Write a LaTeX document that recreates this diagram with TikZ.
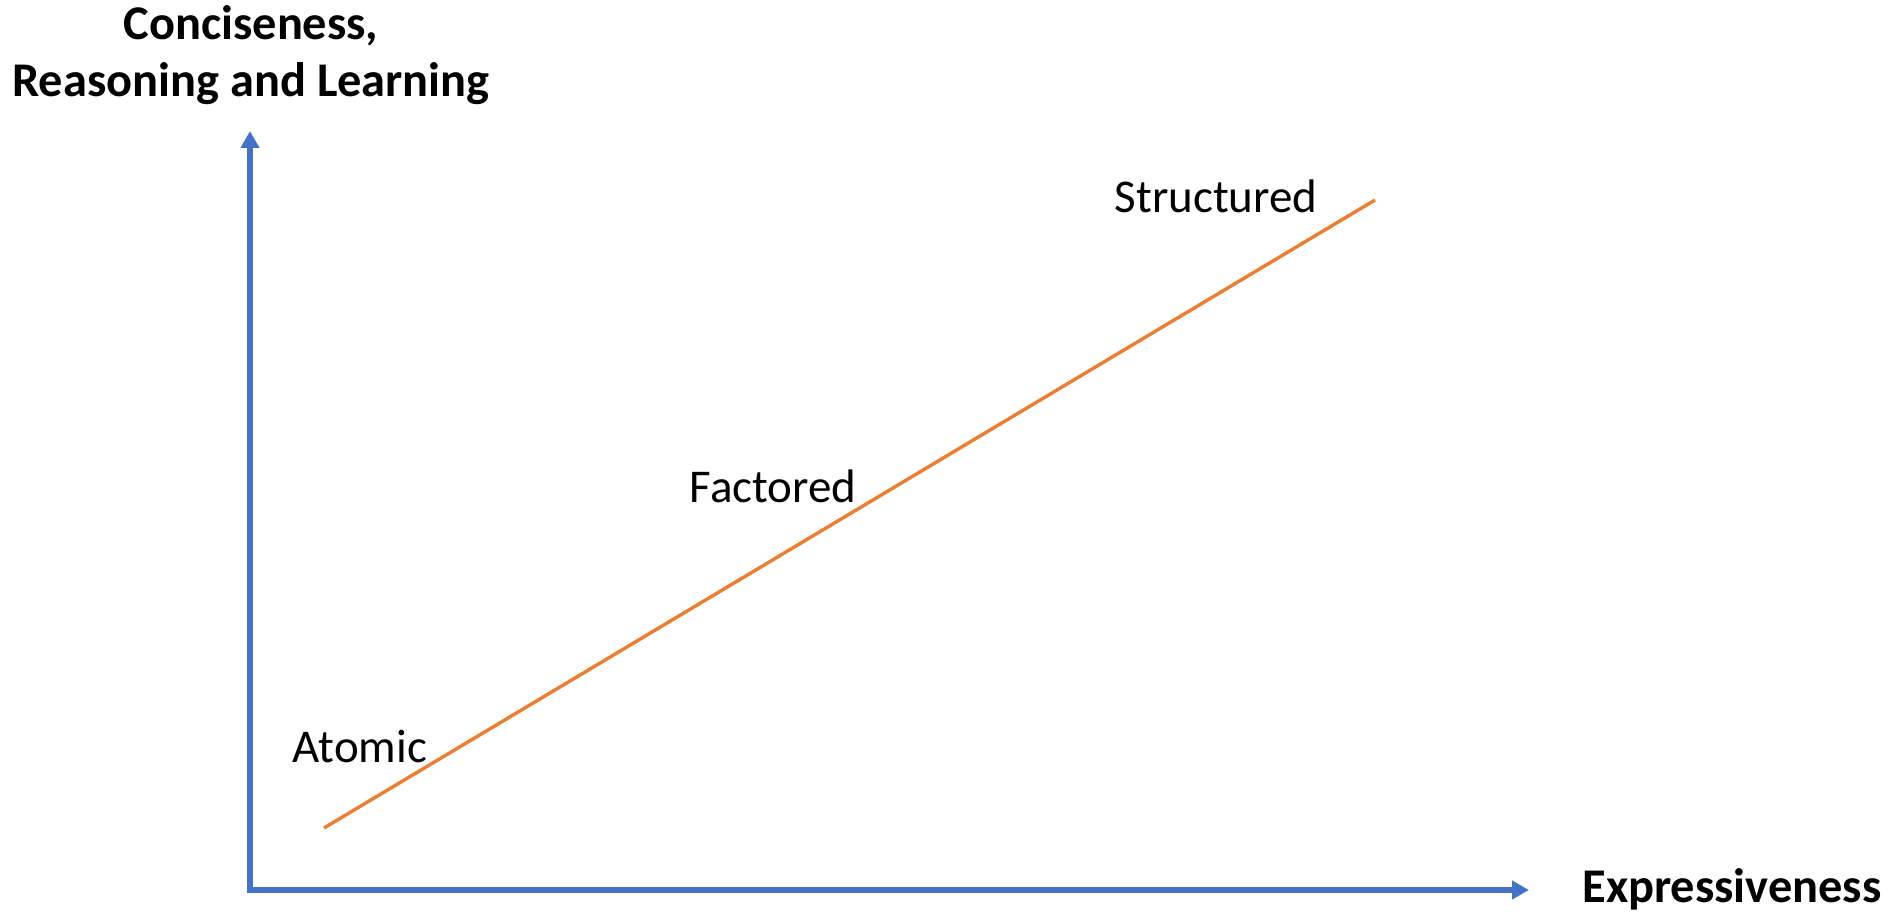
\documentclass[tikz,border=0pt]{standalone}
\usepackage{fontspec}
\setmainfont{Carlito}
\usetikzlibrary{arrows.meta}
\definecolor{axisblue}{HTML}{4472C4}
\definecolor{lineorange}{HTML}{ED7D31}
\tikzset{
  axis/.style={draw=axisblue, line width=2.6pt, -{Triangle[width=9pt,length=8.5pt]}},
  trend/.style={draw=lineorange, line width=1.7pt},
  axislabel/.style={font=\fontsize{24.2}{28.5}\selectfont\bfseries, inner sep=0pt, anchor=base, align=center},
  ptlabel/.style={font=\fontsize{23.5}{28.5}\selectfont, inner sep=0pt, anchor=base},
}
\begin{document}
\begin{tikzpicture}[x=0.5pt,y=-0.5pt]
\useasboundingbox (0,0) rectangle (1891,913);
\coordinate (origin) at (250,890);
\coordinate (ytop) at (250,131);
\coordinate (xend) at (1529,890);
\coordinate (lstart) at (324,828);
\coordinate (lend) at (1375,200);
\draw[axis] ([yshift=-1.3pt]origin) -- (ytop);
\draw[axis] ([xshift=-1.3pt]origin) -- (xend);
\draw[trend] (lstart) -- (lend);
\node[axislabel] (ylab1) at (251,40) {Conciseness,};
\node[axislabel] (ylab2) at (251,97) {Reasoning and Learning};
\node[axislabel] (xlab) at (1732,903) {Expressiveness};
\node[ptlabel] (structured) at (1216,213) {Structured};
\node[ptlabel] (factored) at (773,503) {Factored};
\node[ptlabel] (atomic) at (360,763) {Atomic};
\end{tikzpicture}
\end{document}
